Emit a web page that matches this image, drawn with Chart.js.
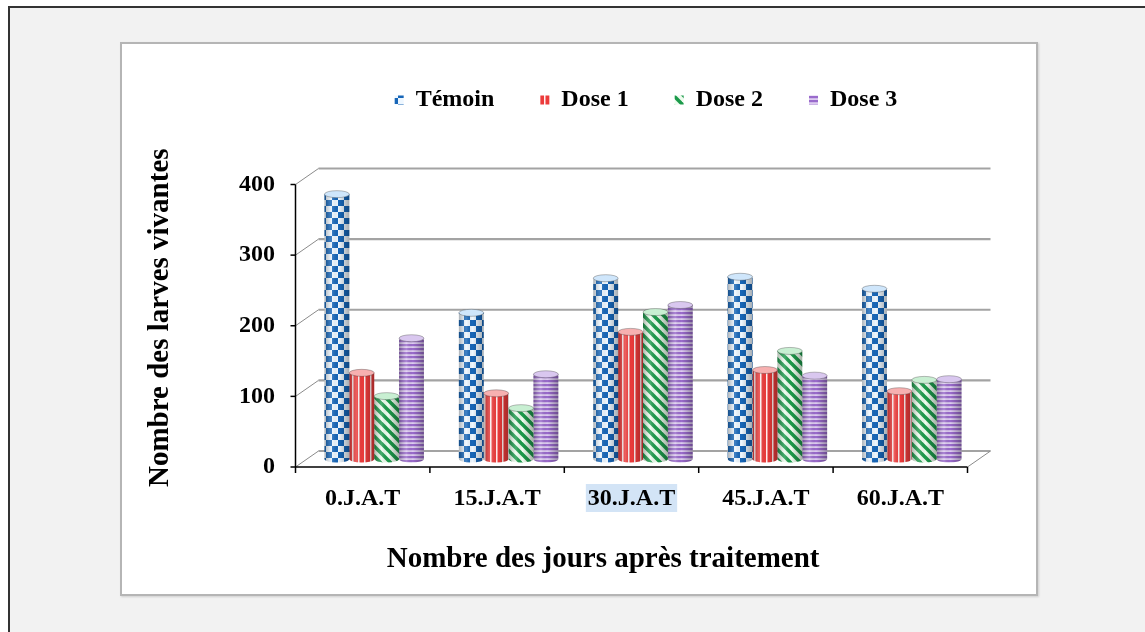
<!DOCTYPE html>
<html>
<head>
<meta charset="utf-8">
<script src="https://cdn.jsdelivr.net/npm/chart.js@4.4.0/dist/chart.umd.min.js"></script>
<style>
  html, body { margin: 0; padding: 0; background: #fff; overflow: hidden; width: 1145px; height: 632px; }
  #frame { position: absolute; left: 8px; top: 6px; width: 1200px; height: 700px; border: 2px solid #333; background: #f2f2f2; }
  #box { position: absolute; left: 120px; top: 42px; width: 914px; height: 550px; border: 2px solid #b5b5b5; background: #fff; box-shadow: 1px 1px 2px rgba(0,0,0,0.15); }
  canvas { display: block; }
</style>
</head>
<body>
<div id="frame"></div>
<div id="box"><canvas id="barchart" width="914" height="550"></canvas></div>
<script>
const labels = ['0.J.A.T', '15.J.A.T', '30.J.A.T', '45.J.A.T', '60.J.A.T'];
const temoin = [375, 207, 256, 258, 241];
const dose1 = [122, 93, 180, 126, 96];
const dose2 = [89, 72, 208, 153, 112];
const dose3 = [171, 120, 218, 118, 113];
const yTicks = [0, 100, 200, 300, 400];

const serif = "'Liberation Serif', 'Times New Roman', serif";
const depth = { dx: 11.5, dy: 8 };   // fake 3D: back wall offset from the bars' plane

function tile(w, h, draw) {
  const c = document.createElement('canvas');
  c.width = w; c.height = h;
  draw(c.getContext('2d'));
  return document.createElement('canvas').getContext('2d').createPattern(c, 'repeat');
}

const checker = tile(12, 12, g => {
  g.fillStyle = '#eef7ff'; g.fillRect(0, 0, 12, 12);
  g.fillStyle = '#1766b8'; g.fillRect(0, 0, 6, 6); g.fillRect(6, 6, 6, 6);
});
const redLines = tile(6, 6, g => {
  g.fillStyle = '#ec3b3b'; g.fillRect(0, 0, 6, 6);
  g.fillStyle = '#fff0f0'; g.fillRect(2, 0, 1.5, 6);
});
const greenDiag = tile(10, 10, g => {
  g.fillStyle = '#eefcee'; g.fillRect(0, 0, 10, 10);
  g.strokeStyle = '#1c9a4b'; g.lineWidth = 3.5;
  [-10, 0, 10].forEach(o => { g.beginPath(); g.moveTo(o - 2, -2); g.lineTo(o + 12, 12); g.stroke(); });
});
const purpleLines = tile(4, 4, g => {
  g.fillStyle = '#ddccf0'; g.fillRect(0, 0, 4, 4);
  g.fillStyle = '#9a6bcc'; g.fillRect(0, 0, 4, 2.2);
});

const capColors = ['#cfe6fb', '#f7b0b0', '#c8efd2', '#d9c7ef'];

function line(ctx, x1, y1, x2, y2) {
  ctx.beginPath(); ctx.moveTo(x1, y1); ctx.lineTo(x2, y2); ctx.stroke();
}

// back wall, left wall and floor drawn from the scales
const walls = {
  id: 'walls',
  beforeDatasetsDraw(chart) {
    const { ctx, chartArea: a, scales: { x, y } } = chart;
    const { dx, dy } = depth;
    const y0 = y.getPixelForValue(0);
    const yTop = y.getPixelForValue(400);
    ctx.save();
    yTicks.forEach(v => {
      const py = y.getPixelForValue(v);
      ctx.strokeStyle = '#a3a3a3'; ctx.lineWidth = 2.2;
      line(ctx, a.left + dx, py - dy, a.right + dx, py - dy);
      ctx.strokeStyle = '#8a8a8a'; ctx.lineWidth = 1;
      line(ctx, a.left - dx, py + dy, a.left + dx, py - dy);
      ctx.strokeStyle = '#000'; ctx.lineWidth = 1.5;
      line(ctx, a.left - dx - 5, py + dy, a.left - dx, py + dy);
    });
    ctx.strokeStyle = '#8a8a8a'; ctx.lineWidth = 1;
    line(ctx, a.right - dx, y0 + dy, a.right + dx, y0 - dy);
    ctx.strokeStyle = '#000'; ctx.lineWidth = 1.5;
    line(ctx, a.left - dx, yTop + dy, a.left - dx, y0 + dy);
    line(ctx, a.left - dx, y0 + dy, a.right - dx, y0 + dy);
    for (let i = 0; i <= labels.length; i++) {
      const px = x.getPixelForValue(i - 0.5) - dx;
      line(ctx, px, y0 + dy, px, y0 + dy + 6);
    }
    ctx.restore();
  }
};

// cylinder look on top of the library's bars
const cylinders = {
  id: 'cylinders',
  afterDatasetsDraw(chart) {
    const { ctx } = chart;
    chart.data.datasets.forEach((ds, di) => {
      chart.getDatasetMeta(di).data.forEach(bar => {
        const { x, y, base, width } = bar.getProps(['x', 'y', 'base', 'width'], true);
        const r = width / 2, ry = 3.5;
        ctx.save();
        ctx.fillStyle = ds.backgroundColor;
        ctx.beginPath(); ctx.ellipse(x, base, r, ry, 0, 0, Math.PI); ctx.fill();
        const g = ctx.createLinearGradient(x - r, 0, x + r, 0);
        g.addColorStop(0, 'rgba(0,0,0,0.28)');
        g.addColorStop(0.3, 'rgba(255,255,255,0.18)');
        g.addColorStop(0.55, 'rgba(0,0,0,0)');
        g.addColorStop(1, 'rgba(0,0,0,0.3)');
        ctx.fillStyle = g;
        ctx.beginPath();
        ctx.moveTo(x - r, y); ctx.lineTo(x - r, base);
        ctx.ellipse(x, base, r, ry, 0, Math.PI, 0, true);
        ctx.lineTo(x + r, y); ctx.closePath(); ctx.fill();
        ctx.fillStyle = capColors[di];
        ctx.strokeStyle = 'rgba(60,60,60,0.35)'; ctx.lineWidth = 1;
        ctx.beginPath(); ctx.ellipse(x, y, r, ry, 0, 0, Math.PI * 2); ctx.fill(); ctx.stroke();
        ctx.restore();
      });
    });
  }
};

// light blue selection behind the third category label
const highlight = {
  id: 'highlight',
  beforeDraw(chart) {
    const { ctx, scales: { x, y } } = chart;
    ctx.save();
    ctx.font = 'bold 24px ' + serif;
    const w = ctx.measureText(labels[2]).width + 4;
    const cx = x.getPixelForValue(2) - depth.dx;
    const cy = y.getPixelForValue(0) + 39;
    ctx.fillStyle = '#d3e4f6';
    ctx.fillRect(cx - w / 2, cy - 14, w, 28);
    ctx.restore();
  }
};

// legend centred over the plot area and kept tall
const legendPlace = {
  id: 'legendPlace',
  beforeInit(chart) {
    const fit = chart.legend.fit;
    chart.legend.fit = function () {
      fit.bind(chart.legend)();
      this.height = 128.5;
    };
  },
  afterLayout(chart) {
    const lg = chart.legend, a = chart.chartArea;
    const shift = (a.left + a.right) / 2 - (lg.left + lg.right) / 2 + 3;
    lg.left += shift; lg.right += shift;
    lg.top -= 6;
  }
};

const ctx = document.getElementById('barchart');

const data = {
  labels: labels,
  datasets: [
    { label: 'Témoin', data: temoin, backgroundColor: checker },
    { label: 'Dose 1', data: dose1, backgroundColor: redLines },
    { label: 'Dose 2', data: dose2, backgroundColor: greenDiag },
    { label: 'Dose 3', data: dose3, backgroundColor: purpleLines }
  ]
};

const config = {
  type: 'bar',
  data: data,
  plugins: [legendPlace, highlight, walls, cylinders],
  options: {
    responsive: false,
    animation: false,
    devicePixelRatio: 1,
    layout: { padding: { top: 4, right: 57, bottom: 0, left: 0 } },
    datasets: { bar: { categoryPercentage: 0.74, barPercentage: 1.0, borderWidth: 0 } },
    plugins: {
      tooltip: { enabled: false },
      legend: {
        position: 'top',
        labels: {
          boxWidth: 9, boxHeight: 9, padding: 46, color: '#000',
          font: { family: serif, size: 24, weight: 'bold' }
        }
      }
    },
    scales: {
      x: {
        grid: { display: false, drawTicks: false },
        border: { display: false },
        ticks: { color: '#000', padding: 25, labelOffset: -depth.dx, font: { family: serif, size: 24, weight: 'bold' } },
        title: { display: true, text: 'Nombre des jours après traitement           ', color: '#000', padding: { top: 0, bottom: 17 }, font: { family: serif, size: 29, weight: 'bold' } },
        afterFit(scale) { scale.height = 135; }
      },
      y: {
        min: 0, max: 400,
        grid: { display: false, drawTicks: false },
        border: { display: false },
        ticks: { stepSize: 100, color: '#000', padding: 32, labelOffset: depth.dy, font: { family: serif, size: 24, weight: 'bold' } },
        title: { display: true, text: 'Nombre des larves vivantes', color: '#000', padding: { top: 21, bottom: 0 }, font: { family: serif, size: 29, weight: 'bold' } },
        afterFit(scale) { scale.width = 185; }
      }
    }
  }
};

let barchart = new Chart(ctx, config);
</script>
</body>
</html>
